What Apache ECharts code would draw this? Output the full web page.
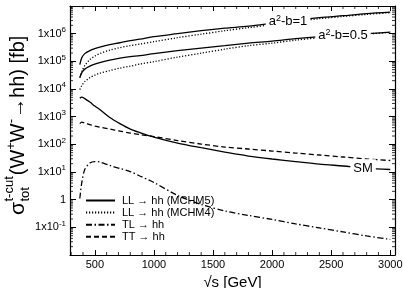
<!DOCTYPE html>
<html><head><meta charset="utf-8">
<script src="https://cdn.jsdelivr.net/npm/echarts@6/dist/echarts.min.js"></script>
<style>html,body{margin:0;padding:0;background:#fff}#c{width:403px;height:288px}</style>
</head><body><div id="c"></div>
<script>
// ---- data ----
const sqrtS = [373, 390, 415, 458, 500, 542, 627, 712, 800, 881, 1000, 1200, 1400, 1600, 1800, 2000, 2200, 2400, 2600, 2800, 3000];
const llMCHM5_ab1  = [7.6e4, 1.36e5, 1.9e5, 2.43e5, 2.87e5, 3.25e5, 4.0e5, 4.7e5, 5.6e5, 6.3e5, 7.8e5, 1.0e6, 1.28e6, 1.58e6, 1.87e6, 2.39e6, 3.07e6, 3.78e6, 4.46e6, 5.27e6, 5.97e6];
const llMCHM5_ab05 = [2.58e4, 3.91e4, 5.23e4, 6.71e4, 7.92e4, 8.97e4, 1.105e5, 1.305e5, 1.48e5, 1.61e5, 1.9e5, 2.43e5, 3.0e5, 3.69e5, 4.54e5, 5.36e5, 6.6e5, 7.8e5, 8.83e5, 1.0e6, 1.13e6];
const llSM         = [4690, 5100, 4500, 3370, 2410, 1800, 928, 563, 357, 267, 183, 111, 75.4, 52.7, 37.8, 29.5, 23.9, 19.4, 16.5, 13.9, 12.3];
const llMCHM4_ab1  = [2.58e4, 4.25e4, 7.0e4, 1.15e5, 1.54e5, 1.9e5, 2.54e5, 3.12e5, 3.69e5, 4.18e5, 5.14e5, 7.17e5, 9.6e5, 1.28e6, 1.65e6, 2.11e6, 2.76e6, 3.48e6, 4.18e6, 4.97e6, 5.73e6];
const llMCHM4_ab05 = [9.5e3, 1.33e4, 1.85e4, 2.58e4, 3.18e4, 3.75e4, 4.62e4, 5.68e4, 6.71e4, 7.92e4, 9.75e4, 1.42e5, 1.98e5, 2.76e5, 3.69e5, 4.54e5, 5.83e5, 7.17e5, 8.47e5, 9.75e5, 1.105e6];
const tlHH         = [1.1, 4.18, 12.3, 21.1, 23.9, 23.0, 17.2, 13.4, 10.4, 7.17, 4.18, 1.42, 0.671, 0.391, 0.269, 0.193, 0.133, 0.0951, 0.0682, 0.0489, 0.0366];
const ttHH         = [563, 638, 587, 519, 458, 421, 357, 302, 256, 226, 191, 137, 102.5, 79.9, 67.7, 57.3, 48.5, 41.1, 34.8, 29.5, 26.0];

const xTickValues = [500, 1000, 1500, 2000, 2500, 3000];
const xMinorStep = 100;
const legendNames = ['LL → hh (MCHM5)', 'LL → hh (MCHM4)', 'TL → hh', 'TT → hh'];
const curveLabelText = ['a{s|2}-b=1', 'a{s|2}-b=0.5', 'SM'];
const curveLabelAt = [2135, 2600, 2770];
const X_MIN = 290, X_MAX = 3040, Y_MIN = 0.01, Y_MAX = 1e7;

const FONT = '"Liberation Sans", Arial, Helvetica, sans-serif';

function pairs(vals) { return sqrtS.map((x, i) => [x, vals[i]]); }
function valueAt(vals, x) {
  for (let i = 0; i < sqrtS.length - 1; i++) {
    if (x >= sqrtS[i] && x <= sqrtS[i + 1]) {
      const t = (x - sqrtS[i]) / (sqrtS[i + 1] - sqrtS[i]);
      return Math.pow(10, Math.log10(vals[i]) + (Math.log10(vals[i + 1]) - Math.log10(vals[i])) * t);
    }
  }
  return vals[vals.length - 1];
}
const labelStyle = {
  show: true, position: 'inside', color: '#000', fontSize: 13, fontFamily: FONT,
  backgroundColor: '#fff', padding: [1, 3, 0, 3], lineHeight: 16,
  rich: { s: { fontSize: 9, verticalAlign: 'top', lineHeight: 9, fontFamily: FONT } }
};
function curveMark(idx, vals) {
  return {
    symbol: 'rect', symbolSize: 0, silent: true, animation: false,
    label: Object.assign({}, labelStyle, { formatter: curveLabelText[idx] }),
    data: [{ coord: [curveLabelAt[idx], valueAt(vals, curveLabelAt[idx])] }]
  };
}
function lineSeries(name, vals, dash, extra) {
  return Object.assign({
    type: 'line', name: name, data: pairs(vals), symbol: 'none', showSymbol: false,
    smooth: 0.3, animation: false, silent: true, z: 2,
    lineStyle: { color: '#000', width: 1.3, type: dash },
    itemStyle: { color: '#000' }
  }, extra || {});
}

// minor tick values
const yMinor = [];
for (let e = -2; e < 7; e++) for (let k = 2; k <= 9; k++) yMinor.push(k * Math.pow(10, e));
const xMinor = [];
for (let v = 300; v <= 3000; v += xMinorStep) if (v % 500 !== 0) xMinor.push(v);

const chart = echarts.init(document.getElementById('c'), null, { renderer: 'canvas' });

// y-axis title pieces
const cvs = document.createElement('canvas').getContext('2d');
function tw(t, size) { cvs.font = size + 'px ' + FONT; return cvs.measureText(t).width; }
const BIG = 20, SMALL = 13;
const titleParts = [];
let px = 0;
function addPart(t, size, dy) {
  titleParts.push({ type: 'text', x: px, y: dy, style: { text: t, font: size + 'px ' + FONT, fill: '#000', align: 'left', verticalAlign: 'middle' } });
}
addPart('σ', BIG + 1, 0); px += tw('σ', BIG + 1) + 0.5;
const p0 = px;
addPart('t-cut', SMALL, -9); addPart('tot', SMALL, 7);
px = p0 + Math.max(tw('t-cut', SMALL), tw('tot', SMALL)) + 1;
addPart('(W', BIG, 0); px += tw('(W', BIG);
addPart('+', SMALL, -7); px += tw('+', SMALL);
addPart('W', BIG, 0); px += tw('W', BIG);
addPart('-', SMALL, -7); px += tw('-', SMALL) + 1;
addPart('→hh) [fb]', BIG, 0);

const tickLine = { color: '#000', width: 1 };
const axisLineStyle = { lineStyle: { color: '#000', width: 1.2 } };

const option = {
  backgroundColor: '#fff',
  animation: false,
  grid: { left: 70, right: 8, top: 6, bottom: 33, containLabel: false, outerBoundsMode: 'none' },
  xAxis: [
    { type: 'value', position: 'bottom', min: X_MIN, max: X_MAX,
      axisLine: axisLineStyle,
      axisTick: { inside: true, length: 5, customValues: xTickValues, lineStyle: tickLine },
      axisLabel: { customValues: xTickValues, color: '#000', fontSize: 11, fontFamily: FONT, margin: 4,
                   formatter: function (v) { return String(v); } },
      splitLine: { show: false },
      name: '√s [GeV]', nameLocation: 'middle', nameGap: 17,
      nameTextStyle: { color: '#000', fontSize: 15, fontFamily: FONT } },
    { type: 'value', position: 'top', min: X_MIN, max: X_MAX,
      axisLine: axisLineStyle,
      axisTick: { inside: true, length: 5, customValues: xTickValues, lineStyle: tickLine },
      axisLabel: { show: false }, splitLine: { show: false } }
  ],
  yAxis: [
    { type: 'log', logBase: 10, position: 'left', min: Y_MIN, max: Y_MAX,
      axisLine: axisLineStyle,
      axisTick: { inside: true, length: 6, lineStyle: tickLine },
      axisLabel: {
        color: '#000', fontSize: 11, fontFamily: FONT, margin: 4,
        showMinLabel: false, showMaxLabel: false,
        formatter: function (v) {
          const e = Math.round(Math.log10(v));
          return e === 0 ? '{b|1}' : '{b|1x10}{s|' + e + '}';
        },
        rich: { b: { fontSize: 11, lineHeight: 16, fontFamily: FONT, color: '#000' },
                s: { fontSize: 8, lineHeight: 8, verticalAlign: 'top', fontFamily: FONT, color: '#000' } }
      },
      splitLine: { show: false } },
    { type: 'log', logBase: 10, position: 'right', min: Y_MIN, max: Y_MAX,
      axisLine: axisLineStyle,
      axisTick: { inside: true, length: 6, lineStyle: tickLine },
      axisLabel: { show: false }, splitLine: { show: false } }
  ],
  legend: {
    data: legendNames, orient: 'vertical', left: 85, top: 195, padding: 0,
    itemWidth: 29, itemHeight: 8, itemGap: 1.1, selectedMode: false,
    itemStyle: { opacity: 0 },
    textStyle: { color: '#000', fontSize: 11, fontFamily: FONT, padding: [0, 0, 0, 2] }
  },
  graphic: [
    { type: 'group', x: 18, y: 215, rotation: Math.PI / 2, children: titleParts }
  ],
  series: [
    lineSeries(legendNames[0], llMCHM5_ab1, 'solid', { markPoint: curveMark(0, llMCHM5_ab1) }),
    lineSeries(legendNames[0], llMCHM5_ab05, 'solid', { markPoint: curveMark(1, llMCHM5_ab05) }),
    lineSeries(legendNames[0], llSM, 'solid', { markPoint: curveMark(2, llSM) }),
    lineSeries(legendNames[1], llMCHM4_ab1, [1.2, 1.8]),
    lineSeries(legendNames[1], llMCHM4_ab05, [1.2, 1.8]),
    lineSeries(legendNames[2], tlHH, [6, 2.5, 1.5, 2.5]),
    lineSeries(legendNames[3], ttHH, [5, 3]),
    { type: 'custom', name: 'yMinorTicks', silent: true, animation: false, clip: false, z: 3,
      data: yMinor.map(v => [X_MIN, v]),
      renderItem: function (params, api) {
        const v = api.value(1);
        const pl = api.coord([X_MIN, v]), pr = api.coord([X_MAX, v]);
        return { type: 'group', children: [
          { type: 'line', shape: { x1: pl[0], y1: pl[1], x2: pl[0] + 3, y2: pl[1] }, style: { stroke: '#000', lineWidth: 0.8 } },
          { type: 'line', shape: { x1: pr[0], y1: pr[1], x2: pr[0] - 3, y2: pr[1] }, style: { stroke: '#000', lineWidth: 0.8 } }
        ] };
      } },
    { type: 'custom', name: 'xMinorTicks', silent: true, animation: false, clip: false, z: 3,
      data: xMinor.map(v => [v, Y_MIN]),
      renderItem: function (params, api) {
        const v = api.value(0);
        const pb = api.coord([v, Y_MIN]), pt = api.coord([v, Y_MAX]);
        return { type: 'group', children: [
          { type: 'line', shape: { x1: pb[0], y1: pb[1], x2: pb[0], y2: pb[1] - 3 }, style: { stroke: '#000', lineWidth: 0.8 } },
          { type: 'line', shape: { x1: pt[0], y1: pt[1], x2: pt[0], y2: pt[1] + 3 }, style: { stroke: '#000', lineWidth: 0.8 } }
        ] };
      } }
  ]
};
chart.setOption(option);
</script></body></html>
